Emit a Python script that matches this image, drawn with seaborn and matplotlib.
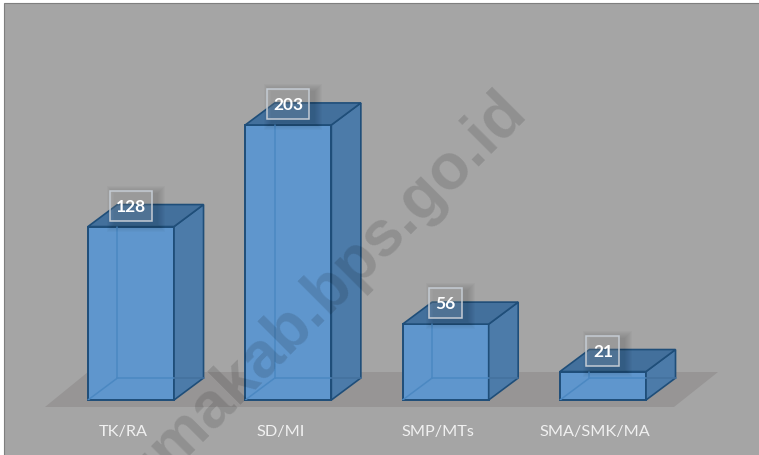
import matplotlib
matplotlib.use('Agg')
import matplotlib.pyplot as plt
from matplotlib.patches import Polygon, Rectangle
from matplotlib.transforms import ScaledTranslation
import seaborn as sns

categories = ['TK/RA', 'SD/MI', 'SMP/MTs', 'SMA/SMK/MA']
values = [128, 203, 56, 21]
watermark = 'umakab.bps.go.id'

W, H = 759, 456
PX_X = 1 / 157.33   # data units per pixel
PX_Y = 1 / 1.355
DX, DY = 29.5 * PX_X, 22 * PX_Y

EDGE = '#1F4E79'
FRONT = '#5F96CD'
SIDE = '#4C7BA9'
TOP = '#43709C'
INNER = '#4B88C2'

sns.set_theme(style='white')
plt.rcParams['font.family'] = ['Lato', 'DejaVu Sans']

fig = plt.figure(figsize=(W / 100, H / 100), dpi=100, facecolor='white')
fig.patches.append(Rectangle((4 / W, -0.1), 1, 1.1 - 4 / H, transform=fig.transFigure,
                             facecolor='#A5A5A5', edgecolor='#7F7F7F', linewidth=0.8, zorder=-1))

ax = fig.add_axes([0, 55 / H, 1, 400 / H])
ax.patch.set_visible(False)

sns.barplot(x=categories, y=values, color=FRONT, saturation=1, width=0.547,
            edgecolor=EDGE, linewidth=1.4, ax=ax, zorder=3)
ax.set_xlim(-131 * PX_X, (W - 131) * PX_X)
ax.set_ylim(0, 400 * PX_Y)
ax.set_yticks([])
sns.despine(ax=ax, left=True, bottom=True)
ax.tick_params(axis='x', length=0, pad=17, labelsize=11.7, labelcolor='#F0F0F0')
shift = ScaledTranslation(-8 / 100, 0, fig.dpi_scale_trans)
for lab in ax.get_xticklabels():
    lab.set_transform(lab.get_transform() + shift)

# floor under the columns, anchored on the first and last column
bars = list(ax.patches)
x_left = bars[0].get_x()
x_right = bars[-1].get_x() + bars[-1].get_width()
ax.add_patch(Polygon([(x_left - 43 * PX_X, -7 * PX_Y), (x_right + 28 * PX_X, -7 * PX_Y),
                      (x_right + 72 * PX_X, 28 * PX_Y), (x_left + 0 * PX_X, 28 * PX_Y)],
                     closed=True, facecolor='#979595', edgecolor='none', clip_on=False, zorder=1))

for bar, val in zip(bars, values):
    x0 = bar.get_x()
    x1 = x0 + bar.get_width()
    h = bar.get_height()
    bar.set_clip_on(False)
    # side and top faces
    ax.add_patch(Polygon([(x1, 0), (x1 + DX, DY), (x1 + DX, h + DY), (x1, h)], closed=True,
                         facecolor=SIDE, edgecolor=EDGE, linewidth=1.2, zorder=4, clip_on=False))
    ax.add_patch(Polygon([(x0, h), (x0 + DX, h + DY), (x1 + DX, h + DY), (x1, h)], closed=True,
                         facecolor=TOP, edgecolor=EDGE, linewidth=1.2, zorder=4, clip_on=False))
    # hidden edges showing through the front face
    ax.plot([x0 + DX, x0 + DX], [DY, h], color=INNER, lw=1.1, zorder=5)
    ax.plot([x0 + DX, x1], [DY, DY], color=INNER, lw=1.1, zorder=5)
    ax.plot([x0, x0 + DX], [0, DY], color=INNER, lw=1.1, zorder=5)
    ax.plot([x1, x1 + DX], [DY, DY], color='#44719E', lw=1.1, zorder=5)

    # label box with a soft shadow
    cx = x0 + bar.get_width() / 2
    cy = h + 21 * PX_Y
    w = (42 if val > 99 else 33) * PX_X
    bh = 30 * PX_Y
    for k in range(8):
        grow = 8 - k
        ax.add_patch(Rectangle((cx - w / 2 + (5 - grow) * PX_X, cy - bh / 2 - (3 + grow) * PX_Y),
                               w + 2 * grow * PX_X, bh + 2 * grow * PX_Y, facecolor='black',
                               alpha=0.018, edgecolor='none', zorder=6, clip_on=False))
    ax.add_patch(Rectangle((cx - w / 2, cy - bh / 2), w, bh, facecolor='white', alpha=0.14,
                           edgecolor='none', zorder=7, clip_on=False))
    ax.add_patch(Rectangle((cx - w / 2, cy - bh / 2), w, bh, facecolor='none',
                           edgecolor='#C5CCD4', linewidth=1.1, zorder=8, clip_on=False))
    ax.text(cx, cy, str(val), color='white', fontsize=12.5, fontweight='bold',
            ha='center', va='center', zorder=9)

fig.text(336 / W, 1 - 306 / H, watermark, rotation=45, rotation_mode='anchor',
         ha='center', va='baseline', fontsize=46, fontweight='bold',
         family='Liberation Sans', color='black', alpha=0.13, zorder=6)

fig.savefig('out.png', dpi=100, facecolor=fig.get_facecolor())
